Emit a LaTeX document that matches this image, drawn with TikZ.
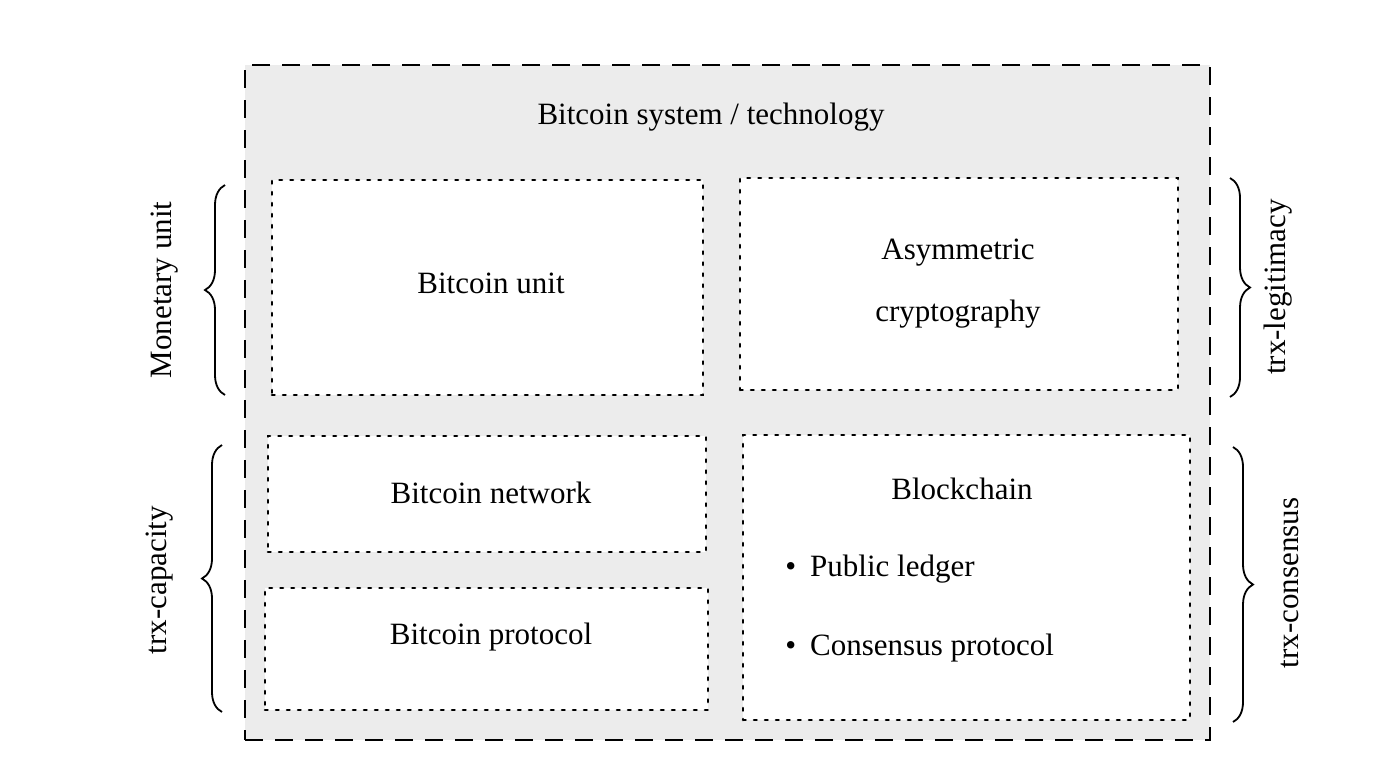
\documentclass[tikz,border=0pt]{standalone}
\usepackage{fontspec}
\setmainfont{Liberation Serif}
\usetikzlibrary{decorations.pathreplacing}
\definecolor{scangray}{RGB}{236,236,236}
\tikzset{
  outerbox/.style={draw,dash pattern=on 9pt off 6pt,line width=1.1pt,fill=scangray,minimum width=482.5pt,minimum height=337.5pt,inner sep=0pt},
  partbox/.style={draw,dash pattern=on 1.3pt off 4.2pt,line width=1.3pt,line cap=round,fill=white,inner sep=0pt},
  lbl/.style={font=\fontsize{15.5}{19}\selectfont,inner sep=0pt},
  bracelbl/.style={lbl,rotate=90},
  grp/.style={decorate,decoration={brace,amplitude=10pt},line width=0.9pt},
}
\begin{document}
\begin{tikzpicture}[x=0.5pt,y=-0.5pt]
\useasboundingbox (0,0) rectangle (1400,773);
%%
\node (node_sys) at (727.5,402.5) [outerbox] {};
  \node (node_title) at (711,117) [lbl] {Bitcoin system / technology};
%
\node (node_unit) at (487.5,287.5) [partbox,minimum width=215.5pt,minimum height=107.5pt] {};
  \node (node_crypto) at (959,284) [partbox,minimum width=219pt,minimum height=106pt] {};
  \node (node_network) at (487,494) [partbox,minimum width=219pt,minimum height=58pt] {};
  \node (node_protocol) at (486.5,649) [partbox,minimum width=221.5pt,minimum height=61pt] {};
  \node (node_chain) at (966.5,577.5) [partbox,minimum width=223.5pt,minimum height=142.5pt] {};
%
\node (text_unit) at (491,283) [lbl] {Bitcoin unit};
  \node (text_crypto) at (958,284) [lbl,align=center] {Asymmetric\\[12pt]cryptography};
  \node (text_network) at (491,493) [lbl] {Bitcoin network};
  \node (text_protocol) at (491,637) [lbl] {Bitcoin protocol};
  \node (text_chain) at (962,489) [lbl] {Blockchain};
  \node (text_ledger) at (785,569) [lbl,anchor=west] {\textbullet\hspace{7pt}Public ledger};
  \node (text_consensus) at (785,648) [lbl,anchor=west] {\textbullet\hspace{7pt}Consensus protocol};
%
\coordinate (mon_a) at (225,395);
  \coordinate (mon_b) at (225,185);
  \coordinate (cap_a) at (222,712);
  \coordinate (cap_b) at (222,445);
  \coordinate (leg_a) at (1230,178);
  \coordinate (leg_b) at (1230,397);
  \coordinate (con_a) at (1233,447);
  \coordinate (con_b) at (1233,722);
  \draw [grp] (mon_a) -- (mon_b);
  \draw [grp] (cap_a) -- (cap_b);
  \draw [grp] (leg_a) -- (leg_b);
  \draw [grp] (con_a) -- (con_b);
%
\node (lbl_mon) at (165,290) [bracelbl] {Monetary unit};
  \node (lbl_cap) at (160,580) [bracelbl] {trx-capacity};
  \node (lbl_leg) at (1278,287) [bracelbl] {trx-legitimacy};
  \node (lbl_con) at (1290,583) [bracelbl] {trx-consensus};
%
\end{tikzpicture}
\end{document}
